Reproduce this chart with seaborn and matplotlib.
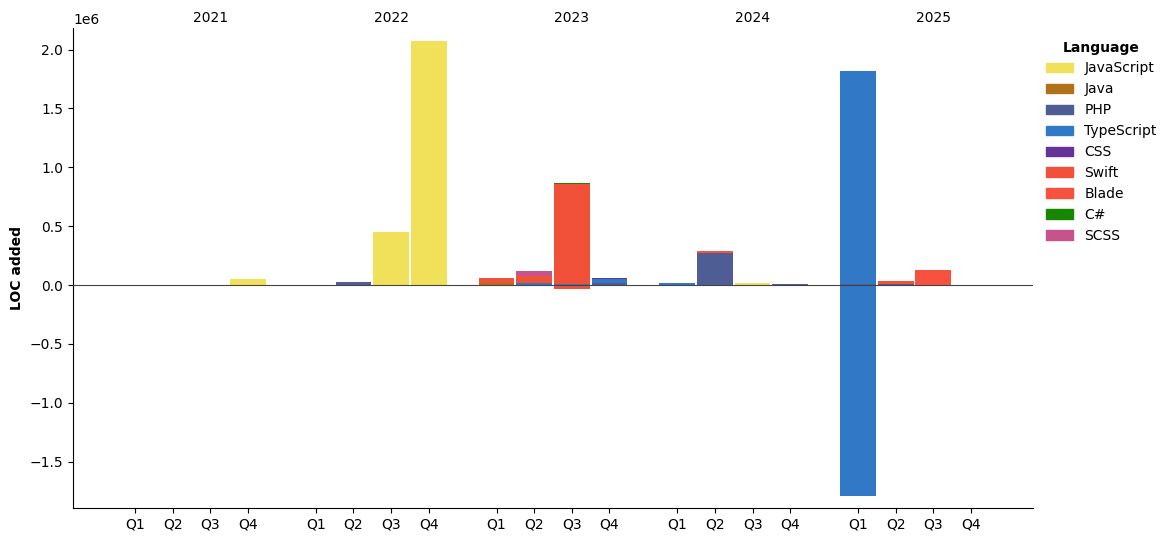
import numpy as np
import seaborn as sns
import matplotlib
matplotlib.use("Agg")
import matplotlib.pyplot as plt
from matplotlib.patches import Patch

# Data
years = [2021, 2022, 2023, 2024, 2025]
quarters = ["Q1", "Q2", "Q3", "Q4"]
languages = ["JavaScript", "Java", "PHP", "TypeScript", "CSS", "Swift", "Blade", "C#", "SCSS"]
lang_colors = ["#f1e05a", "#b07219", "#4F5D95", "#3178c6", "#663399", "#F05138", "#f7523f", "#178600", "#c6538c"]

# LOC per quarter, 2021 Q1 .. 2025 Q4 (positive part)
javascript = [0, 0, 0, 51000, 0, 0, 450000, 2072000, 0, 0, 0, 0, 0, 0, 15000, 0, 0, 0, 0, 0]
java = [0, 0, 0, 0, 0, 0, 0, 0, 15000, 0, 0, 0, 0, 0, 0, 0, 0, 0, 0, 0]
php = [0, 0, 0, 0, 0, 25000, 0, 0, 0, 0, 0, 17000, 0, 272000, 0, 10000, 8000, 10000, 0, 0]
typescript = [0, 0, 0, 0, 0, 0, 0, 0, 0, 20000, 10000, 37000, 18000, 0, 0, 0, 1809000, 0, 0, 0]
css = [0, 0, 0, 0, 0, 0, 0, 0, 0, 0, 0, 8000, 0, 0, 0, 0, 0, 0, 0, 0]
swift = [0, 0, 0, 0, 0, 0, 0, 0, 45000, 60000, 845000, 0, 0, 0, 0, 0, 0, 24000, 0, 0]
blade = [0, 0, 0, 0, 0, 0, 0, 0, 0, 0, 0, 0, 0, 17000, 0, 0, 0, 0, 127000, 0]
csharp = [0, 0, 0, 0, 0, 0, 0, 0, 0, 0, 8000, 0, 0, 0, 0, 0, 0, 0, 0, 0]
scss = [0, 0, 0, 0, 0, 0, 0, 0, 0, 40000, 0, 0, 0, 0, 0, 0, 0, 0, 0, 0]

# negative part
typescript_neg = [0, 0, 0, 0, 0, 0, 0, 0, 0, 0, -12000, 0, 0, 0, 0, 0, -1790000, 0, 0, 0]
swift_neg = [0, 0, 0, 0, 0, 0, 0, 0, 0, 0, -18000, 0, 0, 0, 0, 0, 0, 0, 0, 0]

pos_series = [javascript, java, php, typescript, css, swift, blade, csharp, scss]
zeros = [0] * 20
neg_series = [zeros, zeros, zeros, typescript_neg, zeros, swift_neg, zeros, zeros, zeros]

sns.set_style("ticks", rc={"text.color": "black", "axes.labelcolor": "black",
                           "xtick.color": "black", "ytick.color": "black",
                           "axes.edgecolor": "black"})
palette = sns.color_palette(lang_colors)

# x positions: quarters inside a year, with a gap between years
year_step = 4.8
xpos = np.array([yi * year_step + qi for yi in range(len(years)) for qi in range(len(quarters))])

fig, ax = plt.subplots(figsize=(11.72, 5.42), dpi=100)

bottom_pos = np.zeros(len(xpos))
bottom_neg = np.zeros(len(xpos))
for lang, col, pos, neg in zip(languages, palette, pos_series, neg_series):
    pos = np.array(pos, dtype=float)
    neg = np.array(neg, dtype=float)
    ax.bar(xpos, pos, width=0.95, bottom=bottom_pos, color=col, linewidth=0)
    ax.bar(xpos, neg, width=0.95, bottom=bottom_neg, color=col, linewidth=0)
    bottom_pos += pos
    bottom_neg += neg

ax.axhline(0, color="#444444", linewidth=0.8, zorder=3)

ax.set_xticks(xpos)
ax.set_xticklabels(quarters * len(years))
ax.set_xlim(-1.646, xpos[-1] + 1.646)
ax.set_ylim(-1.894e6, 2.183e6)
ax.set_ylabel("LOC added", fontweight="bold")

# year labels along the top
secax = ax.secondary_xaxis("top")
secax.set_xticks([yi * year_step + 2 for yi in range(len(years))])
secax.set_xticklabels([str(y) for y in years])
secax.tick_params(length=0, pad=2.5)
secax.spines["top"].set_visible(False)

sns.despine(ax=ax)

handles = [Patch(color=c, label=l) for l, c in zip(languages, palette)]
ax.legend(handles=handles, title="Language", title_fontproperties={"weight": "bold"},
          loc="upper left", bbox_to_anchor=(1.0, 1.0), frameon=False)

plt.subplots_adjust(left=0.0623, right=0.8814, top=0.9483, bottom=0.0627)
plt.savefig("out.png", dpi=100)
